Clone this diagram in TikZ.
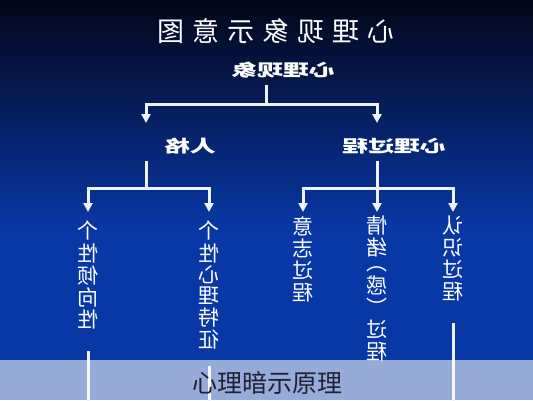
\documentclass[tikz,border=0pt]{standalone}
\usepackage{graphicx}
\usepackage{fontspec}
\newfontfamily\cjk{Noto Sans CJK SC}
\usetikzlibrary{arrows.meta}

\definecolor{bgtop}{HTML}{03061A}
\definecolor{bgbot}{HTML}{0838A6}
\definecolor{wire}{HTML}{EEF3FF}
\definecolor{captxt}{HTML}{1E2233}

% mirrored texts
\newcommand{\mir}[1]{\reflectbox{#1}}
\newcommand{\wide}[1]{\scalebox{-1.62}[1.05]{#1}}
\newcommand{\vcol}[1]{\reflectbox{\begin{tabular}{@{}c@{}}#1\end{tabular}}}

\tikzset{
  wline/.style={draw=wire, line width=3pt},
  arr/.style={wline, -{Triangle[width=9pt,length=9pt]}},
  head/.style={text=white, inner sep=7pt, font=\cjk\bfseries\fontsize{16}{16}\selectfont},
  vtext/.style={text=white, inner xsep=0pt, anchor=north, font=\cjk\fontsize{21}{15}\selectfont},
}

\begin{document}
\begin{tikzpicture}[x=1pt, y=-1pt]
        \useasboundingbox (0,0) rectangle (533,400);
        % background
        \shade[top color=bgtop, bottom color=bgbot] (0,0) rectangle (533,230);
        \fill[bgbot] (0,229) rectangle (533,400);

        \node[text=white, font=\cjk\fontsize{27}{27}\selectfont] (title) at (276,31)
            {\mir{心\hspace{8pt}理\hspace{8pt}现\hspace{8pt}象\hspace{8pt}示\hspace{8pt}意\hspace{8pt}图}};

        \node[head] (xianxiang) at (283,70) {\wide{心理现象}};
        \node[head] (renge) at (190,146) {\wide{人格}};
        \node[head] (guocheng) at (394,146) {\wide{心理过程}};

        \coordinate (j0) at (266,104);
        \coordinate (renge-in) at (146,123);
        \coordinate (guocheng-in) at (377,123);
        \draw[wline] (j0 |- xianxiang.south) -- (j0);
        \draw[arr] (j0) -| (renge-in);
        \draw[arr] (j0) -| (guocheng-in);

        \node[vtext, inner ysep=9pt] (qingxiang) at (88,212) {\vcol{个\\性\\倾\\向\\性}};
        \node[vtext, inner ysep=9pt] (tezheng) at (209,212) {\vcol{个\\性\\心\\理\\特\\征}};
        \node[vtext, inner ysep=4pt] (yizhi) at (303,212) {\vcol{意\\志\\过\\程}};
        \node[vtext, inner ysep=4pt] (qingxu) at (377,212) {\vcol{情\\绪\\︵\\感\\︶\\过\\程}};
        \node[vtext, inner ysep=4pt] (renshi) at (453,212) {\vcol{认\\识\\过\\程}};

        \coordinate (j1) at (146,188);
        \coordinate (j2) at (377,188);
        \draw[wline] (j1 |- renge.south) -- (j1);
        \draw[arr] (j1) -| (qingxiang);
        \draw[arr] (j1) -| (tezheng);
        \draw[wline] (j2 |- guocheng.south) -- (j2);
        \draw[arr] (j2) -| (yizhi);
        \draw[arr] (j2) -- (qingxu);
        \draw[arr] (j2) -| (renshi);

        % lines running off the page
        \coordinate (bot) at (0,401);
        \draw[wline, shorten <=10pt] (qingxiang.south) -- (qingxiang.south |- bot);
        \draw[wline, shorten <=4pt] (tezheng.south) -- (tezheng.south |- bot);
        \draw[wline, shorten <=15pt] (renshi.south) -- (renshi.south |- bot);

        % caption band
        \fill[white, opacity=0.58] (0,360) rectangle (533,400);
        \node[text=captxt, font=\cjk\fontsize{25}{25}\selectfont] (caption) at (267,383) {心理暗示原理};
\end{tikzpicture}
\end{document}
